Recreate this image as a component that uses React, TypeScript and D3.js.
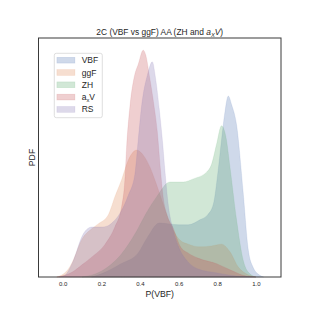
import { useEffect, useRef } from 'react'
import * as d3 from 'd3'

type Pt = [number, number]

const seriesNames = ['VBF', 'ggF', 'ZH', 'axV', 'RS']
const seriesColors = ['#4C72B0', '#DD8452', '#55A868', '#C44E52', '#8172B3']
const xTicks = [0.0, 0.2, 0.4, 0.6, 0.8, 1.0]

// [P(VBF), density]
const vbf: Pt[] = [
  [0.15, 0], [0.2, 0.07], [0.3, 0.29], [0.39, 0.53], [0.44, 0.89], [0.5, 1.2], [0.55, 1.18],
  [0.6, 1.16], [0.65, 1.16], [0.71, 1.27], [0.75, 1.38], [0.78, 1.62], [0.805, 2.38],
  [0.822, 3.04], [0.84, 3.67], [0.857, 4.02], [0.875, 3.82], [0.9, 3.38], [0.934, 1.89],
  [0.96, 0.62], [0.985, 0.22], [1.02, 0.04], [1.04, 0],
]
const ggf: Pt[] = [
  [-0.03, 0], [0.03, 0.18], [0.05, 0.33], [0.1, 0.84], [0.15, 1.07], [0.184, 1.18], [0.236, 1.38],
  [0.27, 1.78], [0.305, 2.16], [0.34, 2.6], [0.383, 2.82], [0.42, 2.69], [0.452, 2.44],
  [0.477, 2.16], [0.503, 1.84], [0.538, 1.4], [0.572, 1.04], [0.607, 0.82], [0.65, 0.73],
  [0.71, 0.67], [0.77, 0.69], [0.822, 0.73], [0.866, 0.56], [0.909, 0.22], [0.95, 0.07], [1.0, 0],
]
const zh: Pt[] = [
  [0.1, 0], [0.2, 0.13], [0.3, 0.49], [0.38, 1.0], [0.43, 1.4], [0.486, 1.78], [0.555, 2.11],
  [0.624, 2.11], [0.676, 2.18], [0.745, 2.33], [0.771, 2.51], [0.797, 2.96], [0.822, 3.36],
  [0.845, 3.11], [0.866, 2.44], [0.9, 1.27], [0.934, 0.38], [0.96, 0.11], [1.0, 0],
]
const axv: Pt[] = [
  [-0.03, 0], [0.05, 0.11], [0.1, 0.27], [0.15, 0.44], [0.22, 0.73], [0.27, 1.11], [0.305, 1.56],
  [0.322, 2.16], [0.331, 2.89], [0.348, 3.78], [0.374, 4.51], [0.39, 4.71], [0.417, 5.04],
  [0.43, 4.93], [0.45, 4.44], [0.47, 3.89], [0.49, 3.22], [0.505, 2.44], [0.52, 1.78],
  [0.54, 1.38], [0.57, 1.11], [0.61, 0.67], [0.65, 0.53], [0.7, 0.42], [0.8, 0.29],
  [0.866, 0.16], [0.95, 0.02], [1.0, 0],
]
const rs: Pt[] = [
  [-0.02, 0], [0.012, 0.04], [0.05, 0.31], [0.107, 0.96], [0.15, 1.11], [0.2, 1.11], [0.23, 1.13],
  [0.26, 1.22], [0.3, 1.44], [0.34, 1.82], [0.374, 2.29], [0.391, 3.04], [0.408, 3.78],
  [0.44, 4.51], [0.464, 4.78], [0.48, 4.44], [0.5, 3.73], [0.517, 3.0], [0.53, 2.33],
  [0.546, 1.62], [0.572, 1.04], [0.6, 0.67], [0.65, 0.33], [0.7, 0.18], [0.8, 0.09],
  [0.9, 0.02], [1.0, 0],
]
const seriesData = [vbf, ggf, zh, axv, rs]

const FONT = '"Liberation Sans", Arial, sans-serif'

export default function App() {
  const svgRef = useRef<SVGSVGElement>(null)

  useEffect(() => {
    const svgEl = svgRef.current
    if (!svgEl) return

    const width = 312
    const height = 312
    const margin = { top: 38, right: 31, bottom: 35, left: 38.5 }
    const innerW = width - margin.left - margin.right
    const innerH = height - margin.top - margin.bottom

    const x = d3.scaleLinear().domain([-0.125, 1.13]).range([0, innerW])
    const y = d3.scaleLinear().domain([0, 5.31]).range([innerH, 0])

    const svg = d3.select(svgEl)
    svg.attr('width', width).attr('height', height).selectAll('*').remove()

    const g = svg.append('g').attr('transform', `translate(${margin.left},${margin.top})`)

    // Density fills
    const area = d3.area<Pt>()
      .x(d => x(d[0]))
      .y0(innerH)
      .y1(d => y(d[1]))
      .curve(d3.curveMonotoneX)

    seriesData.forEach((data, i) => {
      g.append('path')
        .datum(data)
        .attr('d', area)
        .style('fill', seriesColors[i])
        .style('fill-opacity', '0.27')
        .style('stroke', seriesColors[i])
        .style('stroke-opacity', '0.2')
        .style('stroke-width', '0.6')
    })

    // Frame
    g.append('rect')
      .attr('width', innerW)
      .attr('height', innerH)
      .style('fill', 'none')
      .style('stroke', '#3a3a3a')
      .style('stroke-width', '1')

    // X axis
    const xAxisG = g.append('g').attr('transform', `translate(0,${innerH})`)
    xAxisG.call(d3.axisBottom(x).tickValues(xTicks).tickSize(0).tickPadding(5).tickFormat(d3.format('.1f')))
    xAxisG.select('.domain').remove()
    xAxisG.selectAll('text')
      .style('fill', '#262626')
      .style('font-size', '6px')
      .style('font-family', FONT)

    // Axis labels
    g.append('text')
      .attr('x', innerW / 2)
      .attr('y', innerH + 19.5)
      .attr('text-anchor', 'middle')
      .style('fill', '#262626')
      .style('font-size', '8.7px')
      .style('font-family', FONT)
      .text('P(VBF)')

    g.append('text')
      .attr('transform', 'rotate(-90)')
      .attr('x', -(157.5 - margin.top))
      .attr('y', -3.5)
      .attr('text-anchor', 'middle')
      .style('fill', '#262626')
      .style('font-size', '8.7px')
      .style('font-family', FONT)
      .text('PDF')

    // Title
    const title = g.append('text')
      .attr('x', innerW / 2)
      .attr('y', -3.2)
      .attr('text-anchor', 'middle')
      .style('fill', '#262626')
      .style('font-size', '8.4px')
      .style('font-family', FONT)
    title.append('tspan').text('2C (VBF vs ggF) AA (ZH and ')
    title.append('tspan').style('font-style', 'italic').text('a')
    title.append('tspan').style('font-style', 'italic').style('font-size', '5.8px').attr('dy', 1.8).text('X')
    title.append('tspan').style('font-style', 'italic').attr('dy', -1.8).text('V')
    title.append('tspan').text(')')

    // Legend
    const lg = g.append('g').attr('transform', `translate(${54.3 - margin.left},${53.3 - margin.top})`)
    lg.append('rect')
      .attr('width', 48)
      .attr('height', 64.4)
      .attr('rx', 2)
      .style('fill', '#ffffff')
      .style('fill-opacity', '0.8')
      .style('stroke', '#d6d6d6')
      .style('stroke-width', '0.8')

    const ly = d3.scalePoint<string>().domain(seriesNames).range([6.9, 56.1])
    seriesNames.forEach((name, i) => {
      const row = lg.append('g').attr('transform', `translate(0,${ly(name)})`)
      row.append('rect')
        .attr('x', 2.6)
        .attr('y', -2.9)
        .attr('width', 18)
        .attr('height', 5.8)
        .style('fill', seriesColors[i])
        .style('fill-opacity', '0.27')
        .style('stroke', seriesColors[i])
        .style('stroke-opacity', '0.2')
        .style('stroke-width', '0.6')
      const t = row.append('text')
        .attr('x', 27.4)
        .attr('y', 3)
        .style('fill', '#262626')
        .style('font-size', '8.5px')
        .style('font-family', FONT)
      if (name === 'axV') {
        t.append('tspan').text('a')
        t.append('tspan').style('font-size', '5.8px').attr('dy', 1.8).text('x')
        t.append('tspan').attr('dy', -1.8).text('V')
      } else {
        t.text(name)
      }
    })
  }, [])

  return (
    <div style={{ position: 'absolute', left: 0, top: 0, width: 312, height: 312, background: '#fff' }}>
      <svg ref={svgRef} style={{ display: 'block' }} />
    </div>
  )
}
